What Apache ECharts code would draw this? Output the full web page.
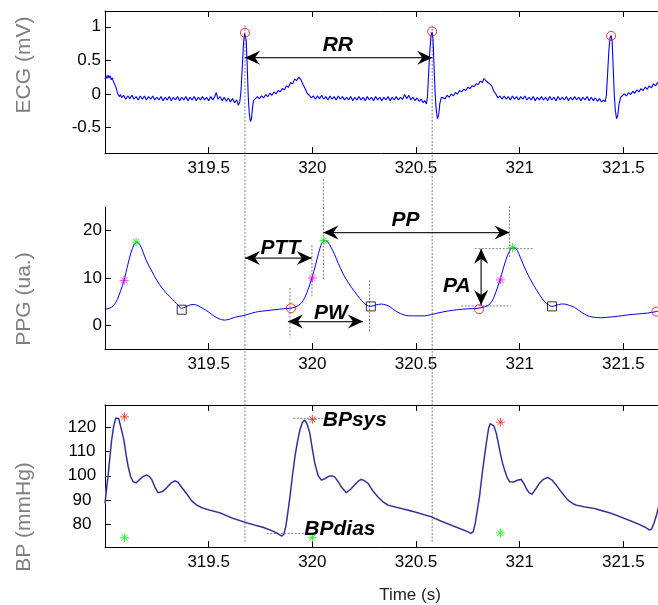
<!DOCTYPE html>
<html><head><meta charset="utf-8">
<script src="https://cdn.jsdelivr.net/npm/echarts@6/dist/echarts.min.js"></script>
<style>html,body{margin:0;padding:0;background:#fff}#c{width:658px;height:605px}</style>
</head><body><div id="c"></div>
<script>
// ---------- axis ticks ----------
const xTicks = [319.5, 320, 320.5, 321, 321.5];
const ecgTicks = [-0.5, 0, 0.5, 1];
const ppgTicks = [0, 10, 20];
const bpTicks = [80, 90, 100, 110, 120];

// ---------- ECG (time s, mV) ----------
const ecgData = [
[319.000,0.22],[319.005,0.27],[319.010,0.23],[319.015,0.28],[319.020,0.24],[319.025,0.27],[319.030,0.21],[319.035,0.24],[319.040,0.19],[319.045,0.20],[319.050,0.12],[319.055,0.08],[319.060,0.01],[319.065,0.03],[319.070,-0.04],[319.075,-0.01],
[319.080,-0.06],[319.090,-0.02],[319.100,-0.08],[319.110,-0.03],[319.120,-0.07],[319.130,-0.02],[319.140,-0.08],[319.150,-0.04],[319.160,-0.09],[319.170,-0.03],[319.180,-0.08],[319.190,-0.03],[319.200,-0.09],[319.210,-0.04],[319.220,-0.08],[319.230,-0.03],[319.240,-0.09],[319.250,-0.05],[319.260,-0.09],[319.270,-0.04],[319.280,-0.10],[319.290,-0.05],[319.300,-0.09],[319.310,-0.04],[319.320,-0.10],[319.330,-0.05],[319.340,-0.09],[319.350,-0.04],[319.360,-0.10],[319.370,-0.05],[319.380,-0.09],[319.390,-0.04],[319.400,-0.10],[319.410,-0.05],[319.420,-0.09],[319.430,-0.04],[319.440,-0.10],[319.450,-0.05],[319.460,-0.09],[319.470,-0.04],[319.480,-0.09],[319.490,-0.05],[319.500,-0.10],[319.510,-0.04],[319.520,-0.09],[319.530,-0.03],[319.537,0.02],[319.545,-0.08],[319.555,-0.04],[319.565,-0.10],[319.575,-0.05],[319.585,-0.11],[319.595,-0.06],[319.605,-0.12],[319.615,-0.07],[319.625,-0.13],[319.635,-0.09],[319.643,-0.17],[319.650,-0.12],
[319.656,0.05],[319.662,0.40],[319.668,0.75],[319.673,0.90],[319.677,0.91],[319.681,0.80],[319.686,0.40],[319.691,-0.05],[319.696,-0.30],[319.701,-0.41],[319.706,-0.38],[319.711,-0.22],[319.716,-0.10],
[319.725,-0.07],[319.735,-0.04],[319.745,-0.07],[319.755,-0.03],[319.765,-0.06],[319.775,-0.01],[319.785,-0.04],[319.795,0.01],[319.805,-0.02],[319.815,0.03],[319.825,0.00],[319.835,0.05],[319.845,0.03],[319.855,0.08],[319.865,0.06],[319.875,0.12],[319.885,0.10],[319.895,0.17],[319.905,0.15],[319.915,0.22],[319.925,0.20],[319.935,0.25],[319.945,0.21],[319.955,0.14],[319.965,0.08],[319.975,0.01],[319.985,-0.02],[319.995,-0.06],
[320.005,-0.03],[320.015,-0.08],[320.025,-0.03],[320.035,-0.07],[320.045,-0.02],[320.055,-0.08],[320.065,-0.04],[320.075,-0.09],[320.085,-0.03],[320.095,-0.08],[320.105,-0.04],[320.115,-0.09],[320.125,-0.03],[320.135,-0.08],[320.145,-0.04],[320.155,-0.09],[320.165,-0.05],[320.175,-0.09],[320.185,-0.04],[320.195,-0.10],[320.205,-0.05],[320.215,-0.09],[320.225,-0.04],[320.235,-0.09],[320.245,-0.05],[320.255,-0.10],[320.265,-0.04],[320.275,-0.09],[320.285,-0.05],[320.295,-0.10],[320.305,-0.04],[320.315,-0.09],[320.325,-0.05],[320.335,-0.10],[320.345,-0.05],[320.355,-0.09],[320.365,-0.04],[320.375,-0.10],[320.385,-0.05],[320.395,-0.09],[320.405,-0.04],[320.415,-0.09],[320.425,-0.05],[320.435,-0.08],[320.445,-0.01],[320.455,-0.07],[320.465,-0.02],[320.475,-0.09],[320.485,-0.05],[320.495,-0.10],[320.505,-0.06],[320.515,-0.11],[320.525,-0.08],[320.535,-0.13],[320.543,-0.10],[320.550,-0.15],
[320.555,-0.05],[320.560,0.25],[320.566,0.62],[320.572,0.86],[320.577,0.92],[320.582,0.82],[320.587,0.40],[320.592,0.02],[320.597,-0.22],[320.603,-0.37],[320.609,-0.32],[320.615,-0.14],[320.622,-0.05],
[320.630,-0.03],[320.640,-0.07],[320.650,-0.02],[320.660,-0.05],[320.670,0.00],[320.680,-0.03],[320.690,0.02],[320.700,0.00],[320.710,0.05],[320.720,0.03],[320.730,0.07],[320.740,0.05],[320.750,0.10],[320.760,0.08],[320.770,0.12],[320.780,0.11],[320.790,0.15],[320.800,0.14],[320.810,0.19],[320.820,0.17],[320.828,0.23],[320.836,0.20],[320.845,0.21],[320.855,0.15],[320.865,0.12],[320.875,0.04],[320.885,0.00],[320.895,-0.06],
[320.905,-0.03],[320.915,-0.08],[320.925,-0.03],[320.935,-0.08],[320.945,-0.04],[320.955,-0.09],[320.965,-0.03],[320.975,-0.08],[320.985,-0.04],[320.995,-0.09],[321.005,-0.04],[321.015,-0.08],[321.025,-0.03],[321.035,-0.09],[321.045,-0.05],[321.055,-0.09],[321.065,-0.04],[321.075,-0.10],[321.085,-0.05],[321.095,-0.09],[321.105,-0.04],[321.115,-0.09],[321.125,-0.05],[321.135,-0.10],[321.145,-0.04],[321.155,-0.09],[321.165,-0.05],[321.175,-0.10],[321.185,-0.04],[321.195,-0.09],[321.205,-0.05],[321.215,-0.09],[321.225,-0.04],[321.235,-0.10],[321.245,-0.05],[321.255,-0.09],[321.265,-0.04],[321.275,-0.09],[321.285,-0.05],[321.295,-0.10],[321.305,-0.05],[321.315,-0.09],[321.325,-0.04],[321.335,-0.10],[321.345,-0.05],[321.355,-0.10],[321.365,-0.06],[321.375,-0.11],[321.385,-0.07],[321.395,-0.12],[321.405,-0.09],[321.412,-0.12],
[321.418,-0.02],[321.424,0.30],[321.430,0.65],[321.436,0.84],[321.441,0.87],[321.446,0.78],[321.451,0.38],[321.456,0.00],[321.461,-0.24],[321.467,-0.37],[321.473,-0.32],[321.479,-0.15],[321.487,-0.05],
[321.495,-0.04],[321.505,0.00],[321.515,-0.03],[321.525,0.02],[321.535,-0.01],[321.545,0.04],[321.555,0.01],[321.565,0.06],[321.575,0.03],[321.585,0.08],[321.595,0.05],[321.605,0.10],[321.615,0.07],[321.625,0.12],[321.635,0.09],[321.645,0.15],[321.655,0.12],[321.665,0.17],[321.675,0.15],[321.685,0.19],[321.700,0.18]
];
const ecgPeaks = [[319.675,0.91],[320.578,0.93],[321.441,0.865]];

// ---------- PPG (time s, a.u.) ----------
const ppgData = [
[319.000,3.4],[319.020,3.6],[319.040,4.1],[319.060,5.5],[319.075,7.3],[319.092,9.5],[319.110,12.8],[319.125,15.3],[319.140,17.0],[319.155,17.6],[319.170,16.9],[319.185,15.3],[319.200,13.6],[319.225,11.5],[319.250,9.5],[319.275,7.9],[319.300,6.6],[319.325,5.5],[319.345,4.6],[319.370,3.6],[319.390,3.9],[319.410,4.3],[319.430,4.4],[319.450,4.1],[319.475,3.5],[319.500,2.8],[319.525,2.0],[319.550,1.4],[319.575,1.1],[319.600,1.3],[319.625,1.7],[319.650,1.9],[319.680,2.2],[319.710,2.6],[319.740,2.9],[319.780,3.1],[319.820,3.3],[319.860,3.5],[319.892,3.6],[319.920,3.9],[319.945,4.6],[319.965,6.0],[319.982,7.9],[319.998,10.0],[320.015,12.7],[320.030,15.2],[320.045,17.3],[320.060,17.9],[320.075,17.6],[320.090,16.5],[320.107,15.0],[320.125,13.1],[320.147,11.0],[320.175,8.9],[320.204,7.1],[320.230,5.6],[320.260,4.3],[320.281,4.0],[320.305,4.3],[320.333,4.5],[320.355,4.3],[320.375,3.9],[320.400,3.1],[320.425,2.5],[320.450,2.1],[320.475,2.0],[320.500,2.0],[320.541,2.0],[320.575,2.3],[320.605,2.6],[320.650,3.0],[320.700,3.3],[320.750,3.5],[320.798,3.6],[320.830,3.9],[320.854,4.4],[320.870,5.4],[320.885,7.0],[320.905,9.6],[320.920,11.9],[320.935,14.0],[320.950,15.6],[320.965,16.4],[320.980,16.3],[320.995,15.2],[321.010,13.6],[321.030,11.6],[321.050,9.8],[321.071,8.2],[321.095,6.5],[321.120,5.0],[321.140,4.3],[321.155,4.0],[321.175,4.2],[321.200,4.5],[321.216,4.5],[321.240,4.2],[321.264,3.8],[321.290,3.0],[321.312,2.4],[321.335,1.9],[321.360,1.7],[321.390,1.6],[321.425,1.7],[321.470,1.9],[321.521,2.2],[321.570,2.4],[321.618,2.6],[321.658,2.9],[321.700,3.3]
];
const ppgMaxSlope = [[319.092,9.5],[320.000,10.0],[320.907,9.6]];
const ppgPeaks = [[319.150,17.6],[320.056,17.9],[320.965,16.4]];
const ppgFeet = [[319.897,3.6],[320.804,3.4],[321.659,2.9]];
const ppgNotches = [[319.370,3.3],[320.282,4.0],[321.156,4.0]];

// ---------- BP (time s, mmHg) ----------
const bpData = [
[319.000,88.6],[319.008,95],[319.016,101],[319.024,108],[319.032,114.8],[319.042,120.5],[319.052,123.8],[319.058,124.4],[319.066,123.6],[319.078,119.5],[319.091,114.8],[319.102,108.5],[319.112,103.7],[319.124,99.5],[319.136,97.5],[319.150,97.1],[319.165,98.3],[319.182,99.6],[319.200,100.3],[319.212,99.8],[319.225,98.5],[319.240,95.5],[319.255,93.0],[319.262,92.7],[319.278,93.5],[319.297,95.0],[319.318,97.0],[319.338,97.9],[319.352,97.3],[319.370,95.2],[319.394,92.5],[319.418,89.7],[319.442,87.9],[319.470,86.7],[319.506,85.8],[319.554,84.7],[319.590,83.4],[319.618,82.4],[319.650,81.5],[319.683,80.6],[319.720,79.7],[319.763,78.7],[319.800,77.5],[319.830,76.3],[319.852,75.1],[319.862,75.8],[319.872,79],[319.882,85],[319.892,91.3],[319.904,100],[319.916,107.9],[319.928,114],[319.940,118.9],[319.952,122],[319.964,123],[319.976,121],[319.988,117.5],[320.000,111],[320.012,105.1],[320.028,100],[320.044,98.2],[320.060,98.8],[320.075,99.6],[320.090,100],[320.107,99.6],[320.125,97.5],[320.139,95.5],[320.163,93.0],[320.185,94.5],[320.204,96.2],[320.222,97.8],[320.236,98.5],[320.250,98.0],[320.268,96.9],[320.290,94.0],[320.316,91.3],[320.340,89.3],[320.364,87.9],[320.395,87.2],[320.428,86.5],[320.470,85.6],[320.509,84.7],[320.540,83.9],[320.573,83.1],[320.620,81.3],[320.670,79.6],[320.720,77.9],[320.750,76.9],[320.766,76.2],[320.776,77.0],[320.786,80.5],[320.796,86],[320.806,91.3],[320.818,100],[320.830,107.9],[320.840,114],[320.850,119.6],[320.858,121.5],[320.866,122.1],[320.876,120.5],[320.887,117.5],[320.898,113],[320.908,108.6],[320.918,105],[320.927,102.4],[320.940,99.2],[320.951,97.5],[320.970,97.4],[320.991,98.2],[321.007,98.5],[321.020,96.8],[321.031,94.8],[321.045,93.0],[321.059,92.4],[321.077,94.5],[321.095,96.9],[321.115,98.6],[321.135,99.3],[321.155,98.3],[321.176,96.2],[321.205,92.8],[321.232,90.0],[321.255,88.6],[321.272,87.9],[321.310,87.2],[321.360,86.5],[321.400,85.5],[321.441,84.5],[321.490,82.9],[321.537,81.3],[321.580,79.8],[321.610,78.5],[321.626,77.6],[321.636,78.0],[321.648,80.5],[321.660,83.8],[321.672,88],[321.700,96]
];
const bpSys = [[319.094,124.3],[320.000,123.3],[320.907,122.1]];
const bpDias = [[319.094,74.4],[320.000,74.4],[320.907,76.4]];

// ---------- annotations (grid index, data coords) ----------
const longGuides = [319.675, 320.578];
const guideLines = [
  {g:1, a:[319.892,7.9], b:[319.892,-2.6]},
  {g:1, a:[319.998,16.9], b:[319.998,6.0]},
  {g:1, a:[320.053,30.9], b:[320.053,9.6]},
  {g:1, a:[320.276,9.5], b:[320.276,-1.5]},
  {g:1, a:[320.951,25.2], b:[320.951,14.3]},
  {g:1, a:[320.783,16.2], b:[321.064,16.2]},
  {g:1, a:[320.718,4.1], b:[320.959,4.1]},
  {g:2, a:[319.908,123.7], b:[320.060,123.7]},
  {g:2, a:[319.780,76.2], b:[319.990,76.2]}
];
const arrows = [
  {g:0, a:[319.675,0.54], b:[320.578,0.54]},
  {g:1, a:[319.675,14.2], b:[319.997,14.2]},
  {g:1, a:[320.053,19.6], b:[320.951,19.6]},
  {g:1, a:[319.882,0.8], b:[320.244,0.8]},
  {g:1, a:[320.814,16.2], b:[320.814,4.3]}
];
const labels = [
  {g:0, t:'RR', p:[320.123,0.73]},
  {g:1, t:'PTT', p:[319.846,16.4]},
  {g:1, t:'PP', p:[320.449,22.3]},
  {g:1, t:'PW', p:[320.090,2.6]},
  {g:1, t:'PA', p:[320.697,8.2]},
  {g:2, t:'BPsys', p:[320.205,123.0]},
  {g:2, t:'BPdias', p:[320.133,78.0]}
];

const FONT = '"Liberation Sans", Arial, sans-serif';
const X_MIN = 319, X_MAX = 321.667;
const STAR = 'path://M5 0 L5 10 M0 5 L10 5 M1.6 1.6 L8.4 8.4 M8.4 1.6 L1.6 8.4';

function xAxisDef(grid, pos, showLabels) {
  return {
    type: 'value', gridIndex: grid, position: pos, min: X_MIN, max: X_MAX,
    axisLine: {show: true, onZero: false, lineStyle: {color: '#000', width: 1}},
    axisTick: {show: true, inside: true, length: 6, customValues: xTicks, lineStyle: {color: '#000'}},
    axisLabel: {show: showLabels, customValues: xTicks, margin: 7, color: '#000', fontSize: 17, fontFamily: FONT},
    splitLine: {show: false}
  };
}
function yAxisDef(grid, min, max, ticks, margin, align) {
  return {
    type: 'value', gridIndex: grid, min: min, max: max,
    axisLine: {show: true, onZero: false, lineStyle: {color: '#000', width: 1}},
    axisTick: {show: true, inside: true, length: 6, customValues: ticks, lineStyle: {color: '#000'}},
    axisLabel: {customValues: ticks, margin: margin, align: align, color: '#000', fontSize: 17, fontFamily: FONT},
    splitLine: {show: false}
  };
}
function markers(xi, yi, data, symbol, color, size) {
  return {
    type: 'scatter', xAxisIndex: xi, yAxisIndex: yi, data: data, symbol: symbol, symbolSize: size,
    itemStyle: {color: 'rgba(0,0,0,0)', borderColor: color, borderWidth: 1}, z: 5, silent: true
  };
}
function gridDef(top) {
  return {left: 105, top: top, width: 553, height: 142, containLabel: false, outerBoundsMode: 'none'};
}

const chart = echarts.init(document.getElementById('c'), null, {renderer: 'canvas'});
chart.setOption({
  animation: false,
  backgroundColor: '#fff',
  grid: [gridDef(11), gridDef(207), gridDef(405)],
  xAxis: [xAxisDef(0, 'bottom', true), xAxisDef(0, 'top', false), xAxisDef(1, 'bottom', true), xAxisDef(2, 'bottom', true), xAxisDef(2, 'top', false)],
  yAxis: [yAxisDef(0, -0.88, 1.235, ecgTicks, 4, 'right'), yAxisDef(1, -5, 25, ppgTicks, 3, 'right'), yAxisDef(2, 70.6, 129.2, bpTicks, 23, 'center')],
  series: [
    {type: 'line', xAxisIndex: 0, yAxisIndex: 0, data: ecgData, showSymbol: false, lineStyle: {color: '#0000ff', width: 1.1}, z: 3},
    markers(0, 0, ecgPeaks, 'circle', '#ff0000', 9),
    {type: 'line', xAxisIndex: 2, yAxisIndex: 1, data: ppgData, showSymbol: false, smooth: 0.3, lineStyle: {color: '#0000ff', width: 1}, z: 3},
    markers(2, 1, ppgMaxSlope, STAR, '#ff00ff', 9),
    markers(2, 1, ppgPeaks, STAR, '#00ee00', 9),
    markers(2, 1, ppgFeet, 'circle', '#ff0000', 9),
    markers(2, 1, ppgNotches, 'rect', '#000000', 9),
    {type: 'line', xAxisIndex: 3, yAxisIndex: 2, data: bpData, showSymbol: false, lineStyle: {color: '#b0b0b0', width: 1.8}, z: 2},
    {type: 'line', xAxisIndex: 3, yAxisIndex: 2, data: bpData, showSymbol: false, lineStyle: {color: '#2020a8', width: 1.1}, z: 3},
    markers(3, 2, bpSys, STAR, '#ff2020', 9),
    markers(3, 2, bpDias, STAR, '#00ee00', 9)
  ]
});

const gx = [0, 2, 3];
function P(g, pt) { return chart.convertToPixel({xAxisIndex: gx[g], yAxisIndex: g}, pt); }
const els = [];
const dotted = {stroke: '#808080', lineWidth: 1, lineDash: [2, 1.5]};
longGuides.forEach(function (t) {
  const a = P(0, [t, 1.02]), b = P(2, [t, 72.8]);
  els.push({type: 'line', shape: {x1: a[0], y1: a[1], x2: b[0], y2: b[1]}, style: dotted, z: 1, silent: true});
});
guideLines.forEach(function (l) {
  const a = P(l.g, l.a), b = P(l.g, l.b);
  els.push({type: 'line', shape: {x1: a[0], y1: a[1], x2: b[0], y2: b[1]}, style: dotted, z: 1, silent: true});
});
function head(tip, from) {
  const dx = tip[0] - from[0], dy = tip[1] - from[1], len = Math.hypot(dx, dy);
  const ux = dx / len, uy = dy / len, nx = -uy, ny = ux, L = 15, W = 7, N = 5;
  return {type: 'polygon', z: 101, silent: true, style: {fill: '#000'}, shape: {points: [
    [tip[0], tip[1]], [tip[0] - ux * L + nx * W, tip[1] - uy * L + ny * W],
    [tip[0] - ux * (L - N), tip[1] - uy * (L - N)], [tip[0] - ux * L - nx * W, tip[1] - uy * L - ny * W]]}};
}
arrows.forEach(function (ar) {
  const a = P(ar.g, ar.a), b = P(ar.g, ar.b);
  els.push({type: 'line', shape: {x1: a[0], y1: a[1], x2: b[0], y2: b[1]}, style: {stroke: '#222', lineWidth: 1.3}, z: 100, silent: true});
  els.push(head(a, b));
  els.push(head(b, a));
});
labels.forEach(function (lb) {
  const p = P(lb.g, lb.p);
  els.push({type: 'text', x: p[0], y: p[1], z: 102, silent: true,
    style: {text: lb.t, fill: '#000', font: 'italic bold 21px ' + FONT, align: 'center', verticalAlign: 'middle'}});
});
[['ECG (mV)', 65], ['PPG (ua.)', 299], ['BP (mmHg)', 517]].forEach(function (yl) {
  els.push({type: 'text', x: 24, y: yl[1], rotation: Math.PI / 2, silent: true,
    style: {text: yl[0], fill: '#7f7f7f', font: '21px ' + FONT, align: 'center', verticalAlign: 'middle'}});
});
els.push({type: 'text', x: 410, y: 595, silent: true,
  style: {text: 'Time (s)', fill: '#222', font: '17px ' + FONT, align: 'center', verticalAlign: 'middle'}});
chart.setOption({graphic: {elements: els}});
</script>
</body></html>
